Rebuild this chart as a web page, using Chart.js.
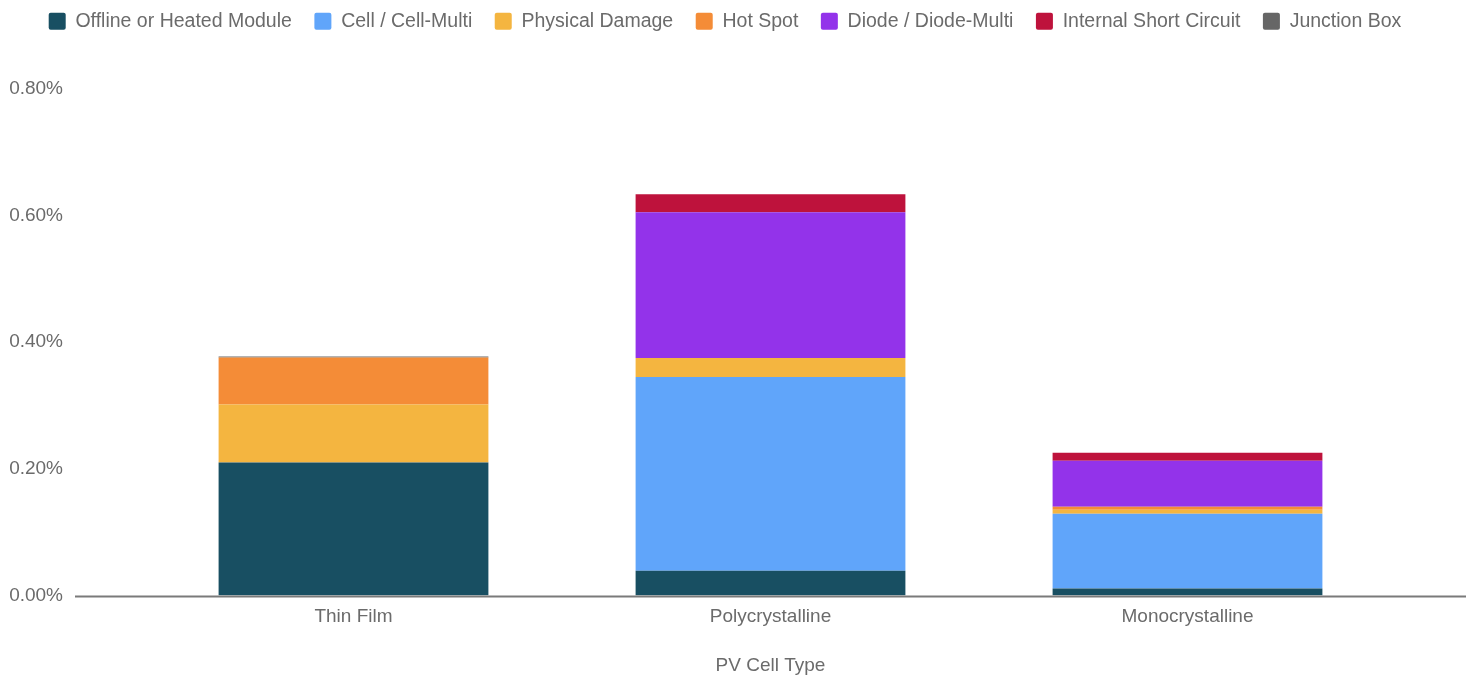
<!DOCTYPE html>
<html>
<head>
<meta charset="utf-8">
<title>Failure Rate by PV Cell Type</title>
<script src="https://cdn.jsdelivr.net/npm/chart.js@4"></script>
<style>
  html, body { margin: 0; padding: 0; background: #fff; }
  #wrap { width: 1471px; height: 677px; position: relative; }
</style>
</head>
<body>
<div id="wrap"><canvas id="failChart"></canvas></div>
<script>
// failure rate (%) per cell type, stacked by failure mode
const cellTypes = ['Thin Film', 'Polycrystalline', 'Monocrystalline'];
const offlineModule = [0.210, 0.039, 0.011];
const cellMulti = [0, 0.306, 0.118];
const physicalDamage = [0.0915, 0.030, 0.0063];
const hotSpot = [0.0742, 0, 0.0047];
const diodeMulti = [0, 0.2304, 0.0726];
const shortCircuit = [0, 0.0284, 0.0126];
const junctionBox = [0.0016, 0, 0];
const yTicks = [0, 0.2, 0.4, 0.6, 0.8];

const textGrey = '#6b6b6b';
Chart.defaults.font.family = '"Liberation Sans", Arial, sans-serif';
Chart.defaults.font.size = 19;
Chart.defaults.color = textGrey;

// long zero line running past the category area
const baseLine = {
    id: 'baseLine',
    afterDatasetsDraw(chart) {
        const { ctx, chartArea, scales } = chart;
        const y = scales.y.getPixelForValue(0);
        ctx.save();
        ctx.strokeStyle = '#7a7a7a';
        ctx.lineWidth = 2;
        ctx.beginPath();
        ctx.moveTo(chartArea.left - 70, y + 1);
        ctx.lineTo(chartArea.right + 70, y + 1);
        ctx.stroke();
        ctx.restore();
    }
};

// keep the legend on one row, add space under it and nudge it right
const legendGap = {
    id: 'legendGap',
    beforeInit(chart) {
        const fit = chart.legend.fit;
        chart.legend.fit = function () {
            this.maxWidth += 80;
            fit.bind(chart.legend)();
            this.height += 48;
        };
    },
    afterLayout(chart) {
        chart.legend.left -= 76;
        chart.legend.right += 120;
    }
};

const series = [
    ['Offline or Heated Module', offlineModule, '#184f62'],
    ['Cell / Cell-Multi', cellMulti, '#60a5fa'],
    ['Physical Damage', physicalDamage, '#f4b540'],
    ['Hot Spot', hotSpot, '#f48c37'],
    ['Diode / Diode-Multi', diodeMulti, '#9333ea'],
    ['Internal Short Circuit', shortCircuit, '#be123c'],
    ['Junction Box', junctionBox, '#666666']
];

new Chart(document.getElementById('failChart'), {
    type: 'bar',
    data: {
        labels: cellTypes,
        datasets: series.map(s => ({
            label: s[0],
            data: s[1],
            backgroundColor: s[2],
            borderWidth: 0,
            categoryPercentage: 0.647,
            barPercentage: 1
        }))
    },
    options: {
        responsive: true,
        maintainAspectRatio: false,
        animation: false,
        layout: {
            autoPadding: false,
            padding: { left: 10, right: 75, top: -11, bottom: 0 }
        },
        plugins: {
            legend: {
                position: 'top',
                labels: {
                    boxWidth: 17,
                    boxHeight: 17,
                    padding: 22.5,
                    font: { size: 19.5 },
                    useBorderRadius: true,
                    borderRadius: 2,
                    color: textGrey
                }
            },
            tooltip: { enabled: false }
        },
        scales: {
            x: {
                stacked: true,
                grid: { display: false, drawTicks: false },
                border: { display: false },
                ticks: { padding: 10 },
                title: { display: true, text: 'PV Cell Type', padding: { top: 16, bottom: 0 } }
            },
            y: {
                stacked: true,
                min: 0,
                max: 0.8,
                afterBuildTicks(axis) { axis.ticks = yTicks.map(v => ({ value: v })); },
                afterFit(axis) {
                    axis.width = 135;
                    axis.paddingTop = 0;
                    axis.paddingBottom = 0;
                },
                grid: { display: false, drawTicks: false },
                border: { display: false },
                ticks: {
                    padding: 82,
                    callback: v => v.toFixed(2) + '%'
                }
            }
        }
    },
    plugins: [baseLine, legendGap]
});
</script>
</body>
</html>
